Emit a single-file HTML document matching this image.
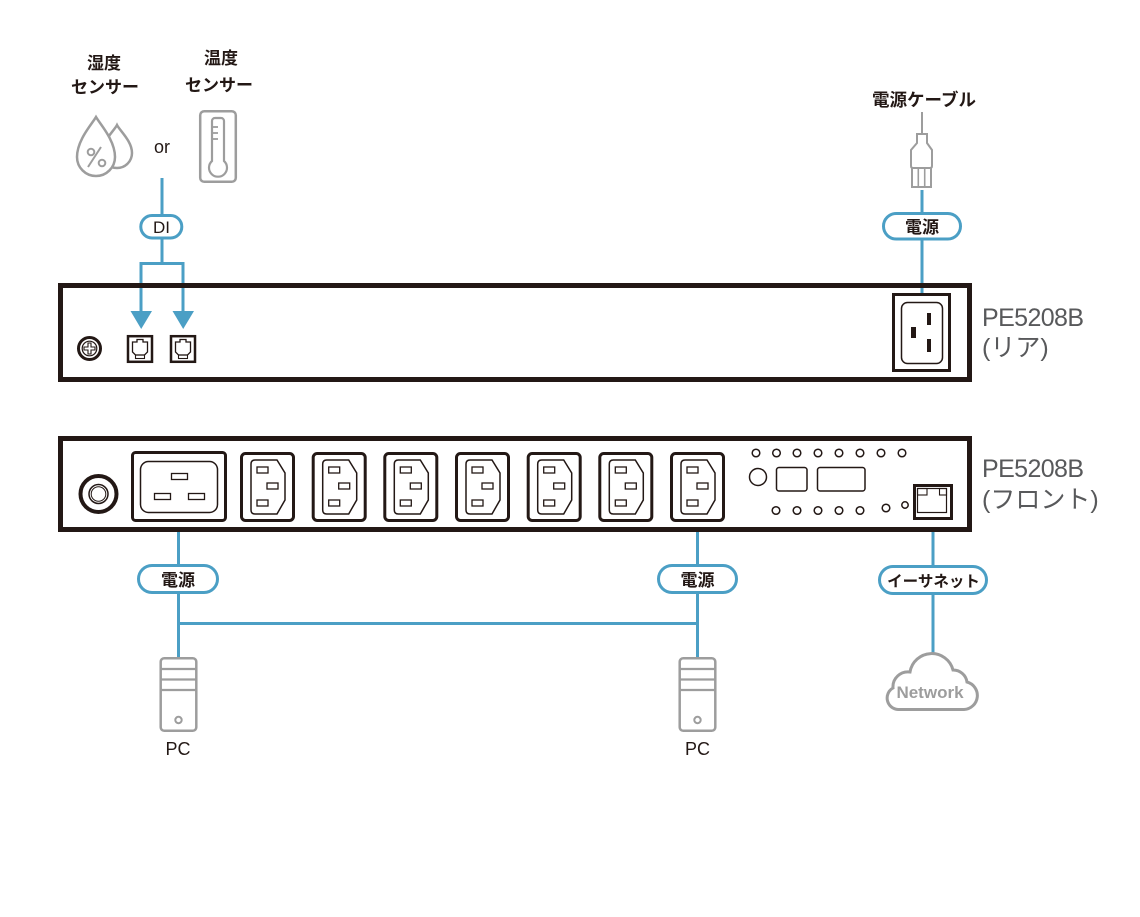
<!DOCTYPE html>
<html><head><meta charset="utf-8">
<style>
html,body{margin:0;padding:0;background:#fff;}
svg{display:block;}
text{font-family:"Liberation Sans","Noto Sans CJK JP",sans-serif;}
</style></head><body>
<svg width="1140" height="917" viewBox="0 0 1140 917" xmlns="http://www.w3.org/2000/svg">
<defs>
<g id="c13">
  <rect x="1.5" y="1.5" width="52" height="67" rx="4" fill="#fff" stroke="#231815" stroke-width="3"/>
  <path d="M15 8 H37 L45 21 V48 L37 62 H15 Q11 62 11 58 V12 Q11 8 15 8 Z" fill="none" stroke="#231815" stroke-width="1.5"/>
  <rect x="17" y="15" width="11" height="6" fill="none" stroke="#231815" stroke-width="1.3"/>
  <rect x="27" y="31" width="11" height="6" fill="none" stroke="#231815" stroke-width="1.3"/>
  <rect x="17" y="48" width="11" height="6" fill="none" stroke="#231815" stroke-width="1.3"/>
</g>
<g id="pc">
  <rect x="-17.8" y="1.2" width="35.6" height="72.6" rx="3.5" fill="#fff" stroke="#9d9d9d" stroke-width="2.5"/>
  <line x1="-18" y1="12" x2="18" y2="12" stroke="#9d9d9d" stroke-width="2.2"/>
  <line x1="-18" y1="22.5" x2="18" y2="22.5" stroke="#9d9d9d" stroke-width="2.2"/>
  <line x1="-18" y1="33" x2="18" y2="33" stroke="#9d9d9d" stroke-width="2.2"/>
  <circle cx="0" cy="63" r="3.2" fill="none" stroke="#9d9d9d" stroke-width="2"/>
</g>
<g id="rj11">
  <rect x="-12" y="1.2" width="24" height="25.6" fill="#fff" stroke="#231815" stroke-width="2.5"/>
  <path d="M-7.5 7 H-3 V4.5 H3 V7 H7.5 V17 L4.5 20 H-4.5 L-7.5 17 Z" fill="none" stroke="#231815" stroke-width="1.3"/>
  <rect x="-4.5" y="20" width="9" height="3.5" fill="none" stroke="#231815" stroke-width="1.1"/>
</g>
</defs>

<!-- ===== Top sensors ===== -->
<text x="104" y="69" font-size="17" font-weight="bold" fill="#231815" text-anchor="middle">湿度</text>
<text x="105" y="93" font-size="17" font-weight="bold" fill="#231815" text-anchor="middle">センサー</text>
<text x="221" y="64" font-size="17" font-weight="bold" fill="#231815" text-anchor="middle">温度</text>
<text x="219" y="91" font-size="17" font-weight="bold" fill="#231815" text-anchor="middle">センサー</text>

<!-- drops -->
<path d="M117 125 C114 131 102 141 102 153 A15 15 0 0 0 132 153 C132 141 120 131 117 125 Z" fill="#fff" stroke="#9d9d9d" stroke-width="2.5"/>
<path d="M96 117 C92 124 77 140 77 157 A19 19 0 0 0 115 157 C115 140 100 124 96 117 Z" fill="#fff" stroke="#9d9d9d" stroke-width="2.5"/>
<circle cx="91" cy="152" r="3.3" fill="none" stroke="#9d9d9d" stroke-width="2"/>
<circle cx="102" cy="163" r="3.3" fill="none" stroke="#9d9d9d" stroke-width="2"/>
<line x1="101" y1="147" x2="88" y2="167" stroke="#9d9d9d" stroke-width="2"/>

<text x="162" y="153" font-size="18" fill="#231815" text-anchor="middle">or</text>

<!-- thermometer -->
<rect x="200.2" y="111.2" width="35.6" height="70.6" rx="4" fill="none" stroke="#9d9d9d" stroke-width="2.5"/>
<path d="M212 161 V121 A3 3 0 0 1 215 118 H221 A3 3 0 0 1 224 121 V161 A9 9 0 1 1 212 161 Z" fill="none" stroke="#9d9d9d" stroke-width="2.2"/>
<line x1="212" y1="127" x2="218" y2="127" stroke="#9d9d9d" stroke-width="1.8"/>
<line x1="212" y1="133" x2="218" y2="133" stroke="#9d9d9d" stroke-width="1.8"/>
<line x1="212" y1="139" x2="218" y2="139" stroke="#9d9d9d" stroke-width="1.8"/>

<!-- DI connectors -->
<g stroke="#4b9fc5" stroke-width="3" fill="none">
  <line x1="162" y1="178" x2="162" y2="264"/>
  <line x1="139.5" y1="263.5" x2="184.5" y2="263.5"/>
  <line x1="141" y1="262" x2="141" y2="313"/>
  <line x1="183" y1="262" x2="183" y2="313"/>
</g>
<polygon points="130.5,311 152,311 141.2,329" fill="#4b9fc5"/>
<polygon points="172.5,311 194,311 183.2,329" fill="#4b9fc5"/>
<rect x="140.8" y="215.5" width="41" height="22.5" rx="11.2" fill="#fff" stroke="#4b9fc5" stroke-width="3"/>
<text x="161.5" y="233" font-size="17" font-weight="500" fill="#231815" text-anchor="middle">DI</text>

<!-- ===== Power cable ===== -->
<text x="924" y="106" font-size="17.5" font-weight="bold" fill="#231815" text-anchor="middle">電源ケーブル</text>
<line x1="922" y1="112" x2="922" y2="134" stroke="#9d9d9d" stroke-width="2"/>
<path d="M917 143 V134 H927 V143 L932 150 V166 Q932 168 930 168 H913 Q911 168 911 166 V150 Z" fill="#fff" stroke="#9d9d9d" stroke-width="2"/>
<rect x="912" y="168" width="19" height="19" fill="#fff" stroke="#9d9d9d" stroke-width="2"/>
<line x1="918.3" y1="168" x2="918.3" y2="187" stroke="#9d9d9d" stroke-width="1.6"/>
<line x1="924.7" y1="168" x2="924.7" y2="187" stroke="#9d9d9d" stroke-width="1.6"/>
<line x1="922" y1="190" x2="922" y2="294" stroke="#4b9fc5" stroke-width="3"/>
<rect x="883.5" y="213.5" width="77" height="25.5" rx="12.7" fill="#fff" stroke="#4b9fc5" stroke-width="3"/>
<text x="922" y="233" font-size="17" font-weight="bold" fill="#231815" text-anchor="middle">電源</text>

<!-- ===== Rear panel ===== -->
<rect x="60.5" y="285.5" width="909" height="94" fill="none" stroke="#231815" stroke-width="5"/>
<circle cx="89.5" cy="348.5" r="11" fill="#fff" stroke="#231815" stroke-width="3"/>
<circle cx="89.5" cy="348.5" r="7.3" fill="none" stroke="#231815" stroke-width="1.2"/>
<path d="M88 343 H91 V347 H95 V350 H91 V354 H88 V350 H84 V347 H88 Z" fill="none" stroke="#231815" stroke-width="1.1"/>
<use href="#rj11" x="140" y="335"/>
<use href="#rj11" x="183" y="335"/>
<rect x="893.5" y="294.5" width="56" height="76" fill="#fff" stroke="#231815" stroke-width="3"/>
<rect x="901.5" y="302.5" width="41" height="61" rx="6" fill="none" stroke="#231815" stroke-width="1.5"/>
<rect x="927" y="313" width="4" height="12" fill="#231815"/>
<rect x="927" y="339" width="4" height="13" fill="#231815"/>
<rect x="911" y="327" width="5" height="11" fill="#231815"/>

<text x="982" y="326" font-size="25" fill="#58595b" letter-spacing="-0.6">PE5208B</text>
<text x="982" y="356" font-size="25" fill="#58595b">(リア)</text>

<!-- ===== Front lines (under panel) ===== -->
<g stroke="#4b9fc5" stroke-width="3" fill="none">
  <line x1="178.5" y1="522" x2="178.5" y2="658"/>
  <line x1="697.5" y1="522" x2="697.5" y2="658"/>
  <line x1="177" y1="623.5" x2="699" y2="623.5"/>
  <line x1="933" y1="518" x2="933" y2="656"/>
</g>

<!-- ===== Front panel ===== -->
<rect x="60.5" y="438.5" width="909" height="91" fill="#fff" stroke="#231815" stroke-width="5"/>
<circle cx="98.5" cy="494" r="18" fill="#fff" stroke="#231815" stroke-width="4"/>
<circle cx="98.5" cy="494" r="9.5" fill="none" stroke="#231815" stroke-width="1.5"/>
<circle cx="98.5" cy="494" r="7.3" fill="none" stroke="#231815" stroke-width="1"/>
<rect x="132.5" y="452.5" width="93" height="68" rx="3" fill="#fff" stroke="#231815" stroke-width="3"/>
<rect x="140.5" y="461.5" width="77" height="51" rx="8" fill="none" stroke="#231815" stroke-width="1.5"/>
<rect x="171.5" y="473.5" width="16" height="6" fill="none" stroke="#231815" stroke-width="1.3"/>
<rect x="154.5" y="493.5" width="16" height="6" fill="none" stroke="#231815" stroke-width="1.3"/>
<rect x="188.5" y="493.5" width="16" height="6" fill="none" stroke="#231815" stroke-width="1.3"/>
<use href="#c13" x="240" y="452"/>
<use href="#c13" x="311.7" y="452"/>
<use href="#c13" x="383.3" y="452"/>
<use href="#c13" x="455" y="452"/>
<use href="#c13" x="526.7" y="452"/>
<use href="#c13" x="598.3" y="452"/>
<use href="#c13" x="670" y="452"/>
<g fill="none" stroke="#231815" stroke-width="1.5">
  <circle cx="756" cy="453" r="3.8"/>
  <circle cx="776.5" cy="453" r="3.8"/>
  <circle cx="797" cy="453" r="3.8"/>
  <circle cx="818" cy="453" r="3.8"/>
  <circle cx="839" cy="453" r="3.8"/>
  <circle cx="860" cy="453" r="3.8"/>
  <circle cx="881" cy="453" r="3.8"/>
  <circle cx="902" cy="453" r="3.8"/>
  <circle cx="758" cy="477" r="8.5"/>
  <rect x="776.5" y="467.5" width="30.5" height="23.5" rx="2.5"/>
  <rect x="817.5" y="467.5" width="47.5" height="23.5" rx="2.5"/>
  <circle cx="776" cy="510.5" r="3.8"/>
  <circle cx="797" cy="510.5" r="3.8"/>
  <circle cx="818" cy="510.5" r="3.8"/>
  <circle cx="839" cy="510.5" r="3.8"/>
  <circle cx="860" cy="510.5" r="3.8"/>
  <circle cx="886" cy="508" r="3.8"/>
  <circle cx="905" cy="505" r="3.2"/>
</g>
<rect x="914.5" y="485.5" width="37" height="33" fill="#fff" stroke="#231815" stroke-width="3"/>
<rect x="917.5" y="488.5" width="29" height="24" fill="none" stroke="#231815" stroke-width="1.2"/>
<rect x="917.5" y="488.5" width="9.5" height="6.5" fill="none" stroke="#231815" stroke-width="1.1"/>
<rect x="939.5" y="488.5" width="7" height="6.5" fill="none" stroke="#231815" stroke-width="1.1"/>

<text x="982" y="477" font-size="25" fill="#58595b" letter-spacing="-0.6">PE5208B</text>
<text x="982" y="508" font-size="25" fill="#58595b">(フロント)</text>

<!-- ===== Lower pills ===== -->
<rect x="138.5" y="565.5" width="79" height="27" rx="13.5" fill="#fff" stroke="#4b9fc5" stroke-width="3"/>
<text x="178" y="586" font-size="17" font-weight="bold" fill="#231815" text-anchor="middle">電源</text>
<rect x="658.5" y="565.5" width="78" height="27" rx="13.5" fill="#fff" stroke="#4b9fc5" stroke-width="3"/>
<text x="697.5" y="586" font-size="17" font-weight="bold" fill="#231815" text-anchor="middle">電源</text>
<rect x="879.5" y="566.5" width="107" height="27" rx="13.5" fill="#fff" stroke="#4b9fc5" stroke-width="3"/>
<text x="933.5" y="586.5" font-size="15.5" font-weight="bold" fill="#231815" text-anchor="middle">イーサネット</text>

<use href="#pc" x="178.5" y="657"/>
<use href="#pc" x="697.5" y="657"/>
<text x="178" y="755" font-size="18" fill="#231815" text-anchor="middle">PC</text>
<text x="697.5" y="755" font-size="18" fill="#231815" text-anchor="middle">PC</text>

<path d="M898 709.5 A11.5 11.5 0 0 1 893 688 A15 15 0 0 1 910 672 A22 22 0 0 1 953 670 A14 14 0 0 1 967 682 A14 14 0 0 1 964 709.5 Z" fill="#fff" stroke="#9d9d9d" stroke-width="3"/>
<text x="930" y="698" font-size="17" font-weight="bold" fill="#9d9d9d" text-anchor="middle">Network</text>
</svg>
</body></html>
